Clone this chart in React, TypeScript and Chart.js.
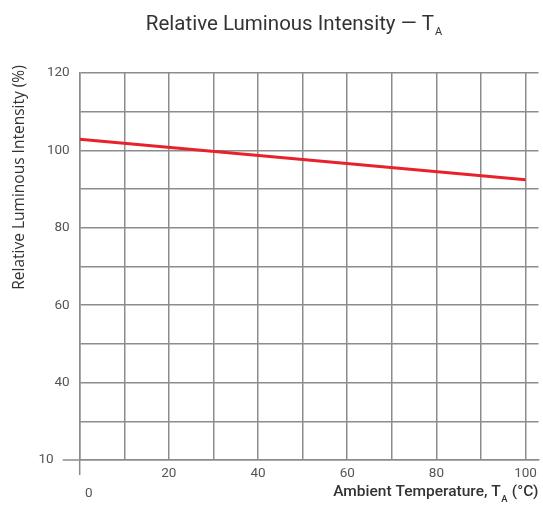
import React, { useEffect, useRef } from "react";
import { Chart, registerables } from "chart.js";

Chart.register(...registerables);

// ---- data ----
const temperatures = [0, 100];
const intensity = [102.9, 92.4];
const xTickValues = [0, 10, 20, 30, 40, 50, 60, 70, 80, 90, 100];
const xTickLabels = ["0", "", "20", "", "40", "", "60", "", "80", "", "100"];
const yTickValues = [20, 30, 40, 50, 60, 70, 80, 90, 100, 110, 120];
const yTickLabels = ["10", "", "40", "", "60", "", "80", "", "100", "", "120"];
const titleMain = "Relative Luminous Intensity \u2014 T";
const titleSub = "A";
const yTitle = "Relative Luminous Intensity (%)";
const xTitleMain = "Ambient Temperature, T";
const xTitleSub = "A";
const xTitleEnd = " (\u00b0C)";

const GRID = "#8c8c8c";
const TICK_COLOR = "#555555";
const FONT = "Roboto, 'DejaVu Sans', sans-serif";

const decorPlugin = {
  id: "decor",
  afterDraw(chart: any) {
    const ctx = chart.ctx as CanvasRenderingContext2D;
    const xs = chart.scales.x;
    const ys = chart.scales.y;
    const x0 = xs.getPixelForValue(xTickValues[0]);
    const yb = ys.getPixelForValue(yTickValues[0]);
    ctx.save();
    // axis extensions
    ctx.strokeStyle = GRID;
    ctx.lineWidth = 1.5;
    ctx.beginPath();
    ctx.moveTo(x0, yb);
    ctx.lineTo(x0, yb + 15);
    ctx.moveTo(x0 - 17, yb);
    ctx.lineTo(x0, yb);
    ctx.stroke();

    // special tick labels
    ctx.fillStyle = TICK_COLOR;
    ctx.font = `13.5px ${FONT}`;
    ctx.textBaseline = "middle";
    ctx.textAlign = "center";
    ctx.fillText(xTickLabels[0], x0 + 9, yb + 34);
    ctx.textAlign = "right";
    ctx.fillText(yTickLabels[0], x0 - 26, yb);

    // main title
    ctx.fillStyle = "#333333";
    ctx.textBaseline = "alphabetic";
    ctx.textAlign = "left";
    const mainFont = `400 20.5px ${FONT}`;
    const subFont = `400 11px ${FONT}`;
    ctx.font = mainFont;
    const wMain = ctx.measureText(titleMain).width;
    ctx.font = subFont;
    const wSub = ctx.measureText(titleSub).width;
    const cx = 294;
    const sx = cx - (wMain + wSub + 1) / 2;
    ctx.font = mainFont;
    ctx.fillText(titleMain, sx, 30);
    ctx.font = subFont;
    ctx.fillText(titleSub, sx + wMain + 1, 35);

    // x title (right aligned)
    const xf = `500 15.5px ${FONT}`;
    const xsf = `500 9.5px ${FONT}`;
    ctx.font = xf;
    const w1 = ctx.measureText(xTitleMain).width;
    const w3 = ctx.measureText(xTitleEnd).width;
    ctx.font = xsf;
    const w2 = ctx.measureText(xTitleSub).width;
    const right = chart.chartArea.right;
    const tx = right - (w1 + w2 + w3 + 1);
    ctx.fillStyle = "#333333";
    ctx.font = xf;
    ctx.fillText(xTitleMain, tx, 496);
    ctx.font = xsf;
    ctx.fillText(xTitleSub, tx + w1 + 0.5, 502);
    ctx.font = xf;
    ctx.fillText(xTitleEnd, tx + w1 + w2 + 1, 496);

    // y title
    ctx.translate(20, 177.5);
    ctx.rotate(-Math.PI / 2);
    ctx.textAlign = "center";
    ctx.textBaseline = "middle";
    ctx.font = `15.5px 'Open Sans', sans-serif`;
    ctx.fillStyle = "#333333";
    ctx.fillText(yTitle, 0, 0);
    ctx.restore();
  },
};

export default function App() {
  const ref = useRef<HTMLCanvasElement | null>(null);
  useEffect(() => {
    document.body.style.margin = "0";
    const canvas = ref.current;
    if (!canvas) return;
    const chart = new Chart(canvas, {
      type: "line",
      data: {
        datasets: [
          {
            data: temperatures.map((t, i) => ({ x: t, y: intensity[i] })),
            borderColor: "#e8222c",
            borderWidth: 3,
            pointRadius: 0,
            fill: false,
            tension: 0,
          },
        ],
      },
      options: {
        animation: false,
        responsive: false,
        devicePixelRatio: 1,
        layout: { padding: { top: 73, right: 2, bottom: 0, left: 0 } },
        plugins: {
          legend: { display: false },
          tooltip: { enabled: false },
          title: { display: false },
        },
        scales: {
          x: {
            type: "linear",
            min: 0,
            max: 102.9,
            afterBuildTicks: (scale: any) => {
              scale.ticks = xTickValues.map((v) => ({ value: v }));
            },
            afterFit: (scale: any) => {
              scale.height = 51;
            },
            grid: { color: GRID, lineWidth: 1.5, drawTicks: false },
            border: { display: true, color: GRID, width: 1.5 },
            ticks: {
              padding: 6,
              maxRotation: 0,
              autoSkip: false,
              color: TICK_COLOR,
              font: { family: FONT, size: 13.5 },
              callback: (v: any) => {
                const i = xTickValues.indexOf(Number(v));
                return i > 0 ? xTickLabels[i] : "";
              },
            },
          },
          y: {
            type: "linear",
            min: 20,
            max: 120,
            afterBuildTicks: (scale: any) => {
              scale.ticks = yTickValues.map((v) => ({ value: v }));
            },
            afterFit: (scale: any) => {
              scale.width = 79.7;
            },
            grid: { color: GRID, lineWidth: 1.5, drawTicks: false },
            border: { display: true, color: GRID, width: 1.5 },
            ticks: {
              padding: 10,
              autoSkip: false,
              color: TICK_COLOR,
              font: { family: FONT, size: 13.5 },
              callback: (v: any) => {
                const i = yTickValues.indexOf(Number(v));
                return i > 0 ? yTickLabels[i] : "";
              },
            },
          },
        },
      },
      plugins: [decorPlugin],
    } as any);
    return () => chart.destroy();
  }, []);
  return (
    <div style={{ width: 543, height: 511, background: "#fff" }}>
      <canvas ref={ref} width={543} height={511} style={{ display: "block" }} />
    </div>
  );
}
